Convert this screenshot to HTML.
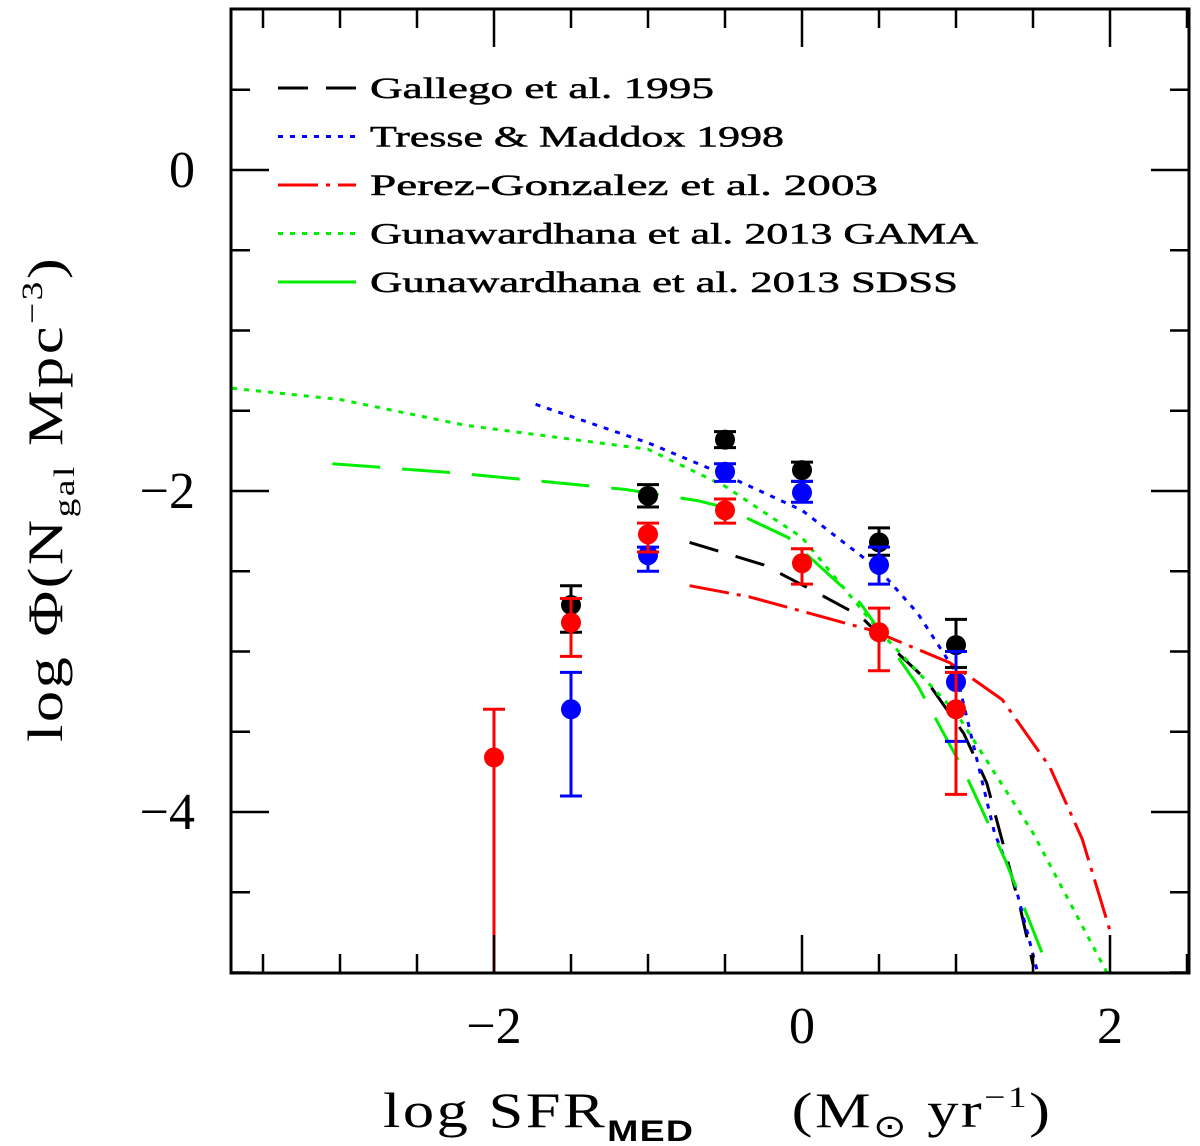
<!DOCTYPE html>
<html><head><meta charset="utf-8"><style>
html,body{margin:0;padding:0;background:#fff}
svg{display:block}
text{font-family:"Liberation Serif",serif;fill:#000}
.leg{font-family:"Liberation Serif",serif;font-size:30px;stroke:#000;stroke-width:0.5}
</style></head><body>
<svg id="chart" width="1200" height="1146" viewBox="0 0 1200 1146" xmlns="http://www.w3.org/2000/svg">
<g id="curves"></g>
<g id="points"></g>
<g id="axes"></g>
<g id="legend"></g>
<text transform="translate(383,1127) scale(1.25,1)" x="0" y="0" font-size="50" letter-spacing="2">log SFR<tspan font-size="30" dy="14" font-family="Liberation Sans" font-weight="bold" letter-spacing="1">MED</tspan><tspan dy="-14" dx="78">(M</tspan><tspan font-size="32" dy="10">⊙</tspan><tspan dy="-10"> yr</tspan><tspan font-size="30" dy="-20">−1</tspan><tspan dy="20">)</tspan></text>
<text transform="translate(62,742) rotate(-90) scale(1.25,1)" font-size="50" letter-spacing="2">log Φ(N<tspan font-size="30" dy="12">gal</tspan><tspan dy="-12"> Mpc</tspan><tspan font-size="30" dy="-20">−3</tspan><tspan dy="20">)</tspan></text>
</svg>
<script>
const xTickMajor=[-2,0,2];
const yTickMajor=[0,-2,-4];
const gallegoX=[-0.73,-0.25,0.07,0.38,0.6,0.8,1.05,1.2,1.42,1.5];
const gallegoY=[-2.32,-2.46,-2.62,-2.78,-2.99,-3.17,-3.51,-3.82,-4.61,-4.95];
const tresseX=[-1.73,-1.0,-0.5,0,0.5,0.75,1.0,1.25,1.38,1.53];
const tresseY=[-1.46,-1.70,-1.90,-2.12,-2.49,-2.76,-3.13,-4.13,-4.44,-5.0];
const perezX=[-0.73,-0.34,0.46,0.96,1.30,1.61,1.82,2.0];
const perezY=[-2.59,-2.66,-2.87,-3.07,-3.30,-3.72,-4.17,-4.74];
const gamaX=[-3.7,-3.0,-2.19,-1.0,-0.5,0,0.5,1.0,1.5,1.98];
const gamaY=[-1.36,-1.43,-1.59,-1.74,-1.97,-2.29,-2.87,-3.38,-4.13,-5.0];
const sdssX=[-3.05,-2.22,-1.15,-0.68,-0.51,-0.09,0.38,0.75,1.05,1.32,1.56];
const sdssY=[-1.83,-1.89,-1.99,-2.06,-2.10,-2.29,-2.70,-3.21,-3.74,-4.30,-4.88];
const blackX=[-1.5,-1,-0.5,0,0.5,1];
const blackY=[-2.71,-2.03,-1.68,-1.87,-2.32,-2.96];
const blackHi=[-2.59,-1.96,-1.63,-1.82,-2.23,-2.80];
const blackLo=[-2.88,-2.10,-1.73,-1.94,-2.40,-3.10];
const blueX=[-1.5,-1,-0.5,0,0.5,1];
const blueY=[-3.36,-2.40,-1.88,-2.01,-2.46,-3.19];
const blueHi=[-3.13,-2.35,-1.83,-1.94,-2.35,-3.00];
const blueLo=[-3.90,-2.50,-1.94,-2.07,-2.58,-3.56];
const redX=[-2,-1.5,-1,-0.5,0,0.5,1];
const redY=[-3.66,-2.82,-2.27,-2.12,-2.45,-2.88,-3.36];
const redHi=[-3.36,-2.67,-2.20,-2.05,-2.36,-2.73,-3.13];
const redLo=[-5.5,-3.03,-2.38,-2.20,-2.58,-3.12,-3.89];

const NS='http://www.w3.org/2000/svg';
const L=231,R=1189,T=9,B=973;
const X=v=>802+154*v;
const Y=v=>170-160.5*v;
function mk(tag,attrs,parent){const e=document.createElementNS(NS,tag);for(const k in attrs)e.setAttribute(k,attrs[k]);parent.appendChild(e);return e;}
const axes=document.getElementById('axes'),curves=document.getElementById('curves'),points=document.getElementById('points'),legend=document.getElementById('legend');

const clip=mk('clipPath',{id:'pc'},document.getElementById('chart'));
mk('rect',{x:L,y:T,width:R-L,height:B-T},clip);
curves.setAttribute('clip-path','url(#pc)');
points.setAttribute('clip-path','url(#pc)');

const series=[
 {xs:gallegoX,ys:gallegoY,c:'#000',d:'30 18',ld:'30 18',name:'gallego-1995-curve'},
 {xs:tresseX,ys:tresseY,c:'#0000ff',d:'5 7',ld:'5 7',name:'tresse-maddox-1998-curve'},
 {xs:perezX,ys:perezY,c:'#ff0000',d:'40 8 4 8',ld:'40 8 4 8',name:'perez-gonzalez-2003-curve'},
 {xs:gamaX,ys:gamaY,c:'#00ee00',d:'5 7',ld:'5 7',name:'gunawardhana-gama-curve'},
 {xs:sdssX,ys:sdssY,c:'#00ee00',d:'48 22',ld:'none',name:'gunawardhana-sdss-curve'}
];
series.forEach(s=>{
 const pts=s.xs.map((x,i)=>X(x).toFixed(1)+','+Y(s.ys[i]).toFixed(1)).join(' ');
 const pl=mk('polyline',{points:pts,fill:'none',stroke:s.c,'stroke-width':3,'stroke-dasharray':s.d,'stroke-linejoin':'round'},curves);
 
 
});

function drawSet(xs,ys,hi,lo,color,label){
 xs.forEach((x,i)=>{
  const g=mk('g',{},points);
  
  
  const cx=X(x);
  mk('line',{x1:cx,x2:cx,y1:Y(hi[i]),y2:Y(lo[i]),stroke:color,'stroke-width':3},g);
  mk('line',{x1:cx-11,x2:cx+11,y1:Y(hi[i]),y2:Y(hi[i]),stroke:color,'stroke-width':3},g);
  mk('line',{x1:cx-11,x2:cx+11,y1:Y(lo[i]),y2:Y(lo[i]),stroke:color,'stroke-width':3},g);
  mk('circle',{cx:cx,cy:Y(ys[i]),r:10,fill:color},g);
 });
}
drawSet(blackX,blackY,blackHi,blackLo,'#000','black');
drawSet(blueX,blueY,blueHi,blueLo,'#0000ff','blue');
drawSet(redX,redY,redHi,redLo,'#ff0000','red');

const fr=mk('rect',{x:L,y:T,width:R-L,height:B-T,fill:'none',stroke:'#000','stroke-width':3},axes);


for(let v=-3.5;v<=2.51;v+=0.5){
 const maj=Math.abs(v/2-Math.round(v/2))<1e-6;
 const len=maj?38:19,x=X(v);
 mk('line',{x1:x,x2:x,y1:B,y2:B-len,stroke:'#000','stroke-width':2.5},axes);
 mk('line',{x1:x,x2:x,y1:T,y2:T+len,stroke:'#000','stroke-width':2.5},axes);
}
for(let v=0.5;v>=-5.01;v-=0.5){
 const maj=Math.abs(v/2-Math.round(v/2))<1e-6;
 const len=maj?38:19,y=Y(v);
 mk('line',{x1:L,x2:L+len,y1:y,y2:y,stroke:'#000','stroke-width':2.5},axes);
 mk('line',{x1:R,x2:R-len,y1:y,y2:y,stroke:'#000','stroke-width':2.5},axes);
}
xTickMajor.forEach(v=>{
 const t=mk('text',{x:X(v),y:1043,'font-size':52,'text-anchor':'middle'},axes);
 t.textContent=v<0?'−'+Math.abs(v):String(v);
 
 
});
yTickMajor.forEach(v=>{
 const t=mk('text',{x:195,y:Y(v)+17,'font-size':52,'text-anchor':'end'},axes);
 t.textContent=v<0?'−'+Math.abs(v):String(v);
 
 
});

const legendLabels=['Gallego et al. 1995','Tresse & Maddox 1998','Perez-Gonzalez et al. 2003','Gunawardhana et al. 2013 GAMA','Gunawardhana et al. 2013 SDSS'];
const legendW=[344,414,508,608,588];
legendLabels.forEach((lab,i)=>{
 const y=88+i*48.5;
 const g=mk('g',{},legend);
 
 
 mk('line',{x1:278,x2:356,y1:y,y2:y,stroke:series[i].c,'stroke-width':3,'stroke-dasharray':series[i].ld},g);
 const t=mk('text',{x:370,y:y+10,class:'leg',textLength:legendW[i],lengthAdjust:'spacingAndGlyphs'},g);
 t.textContent=lab;
});
</script>
</body></html>
